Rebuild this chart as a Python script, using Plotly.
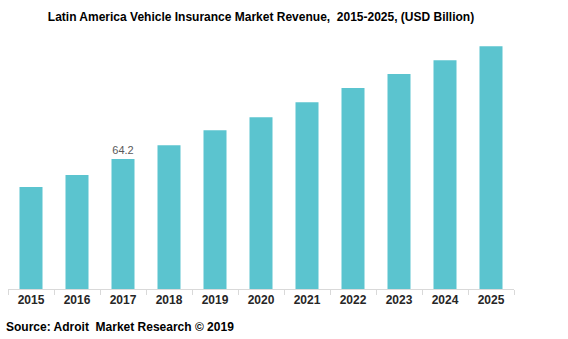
import plotly.graph_objects as go

years = ["2015", "2016", "2017", "2018", "2019", "2020", "2021", "2022", "2023", "2024", "2025"]
revenue = [50.4, 56.3, 64.2, 71.1, 78.5, 84.9, 92.3, 99.3, 106.2, 113.1, 120.0]
label_texts = ["", "", "64.2", "", "", "", "", "", "", "", ""]

fig = go.Figure()
fig.add_trace(go.Bar(
    x=years, y=revenue,
    marker=dict(color="#5BC4CF", line=dict(width=0)),
    text=label_texts, textposition="outside", cliponaxis=False,
    textfont=dict(family="Liberation Sans, Arial", size=11, color="#595959"),
    hoverinfo="skip",
))
fig.update_layout(
    width=568, height=339,
    margin=dict(l=8, r=54, t=30, b=50),
    paper_bgcolor="white", plot_bgcolor="white",
    bargap=0.5,
    showlegend=False,
    title=dict(text="<b>Latin America Vehicle Insurance Market Revenue,  2015-2025, (USD Billion)</b>",
               x=0.5, xref="paper", y=0.95, yanchor="middle",
               font=dict(family="Liberation Sans, Arial", size=12, color="black")),
    xaxis=dict(showline=True, linecolor="#d9d9d9", linewidth=1,
               ticks="outside", tickson="boundaries", ticklen=5, tickcolor="#d9d9d9",
               tickfont=dict(family="Liberation Sans, Arial", size=12, color="#262626", weight="bold"),
               showgrid=False),
    yaxis=dict(range=[0, 128], visible=False, showgrid=False),
    annotations=[dict(text="<b>Source: Adroit  Market Research © 2019</b>", x=0, xref="paper",
                      xanchor="left", xshift=-4, y=0, yref="paper", yanchor="middle",
                      yshift=-38, showarrow=False,
                      font=dict(family="Liberation Sans, Arial", size=12, color="black"))],
)
fig.write_html("out.html")
